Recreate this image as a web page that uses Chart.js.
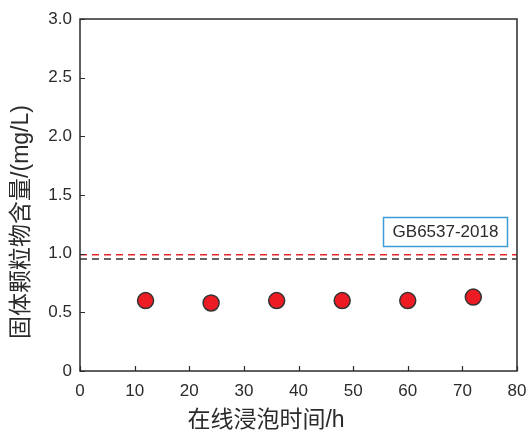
<!DOCTYPE html>
<html>
<head>
<meta charset="utf-8">
<script src="https://cdn.jsdelivr.net/npm/chart.js@4/dist/chart.umd.min.js"></script>
<style>
  html, body { margin: 0; padding: 0; background: #fff; }
  #wrap { width: 528px; height: 436px; position: relative; }
</style>
</head>
<body>
<div id="wrap"><canvas id="c" width="528" height="436"></canvas></div>
<script>
// Soaking time (h) and measured solid particulate content (mg/L)
const soakHours = [12, 24, 36, 48, 60, 72];
const particleContent = [0.60, 0.58, 0.60, 0.60, 0.60, 0.63];

// Reference limit lines (standard GB6537-2018)
const limitRed = 0.99;
const limitBlack = 0.955;
const limitSpan = [0, 80];
const standardLabel = 'GB6537-2018';

const xTicks = [0, 10, 20, 30, 40, 50, 60, 70, 80];
const yTicks = [0, 0.5, 1.0, 1.5, 2.0, 2.5, 3.0];

const xTitle = '在线浸泡时间/h';
const yTitle = '固体颗粒物含量/(mg/L)';

const FONT = '"Liberation Sans", Arial, "Noto Sans CJK SC", sans-serif';
const INK = '#2b2b2b';

// Frame, inward tick marks, axis titles and the standard label box
const decorations = {
  id: 'decorations',
  afterDatasetsDraw(chart) {
    const { ctx, chartArea: a, scales } = chart;
    ctx.save();
    ctx.strokeStyle = INK;
    ctx.lineWidth = 1.5;
    ctx.strokeRect(a.left, a.top, a.right - a.left, a.bottom - a.top);

    ctx.lineWidth = 1.2;
    ctx.beginPath();
    xTicks.forEach(v => {
      const px = Math.round(scales.x.getPixelForValue(v)) + 0.5;
      ctx.moveTo(px, a.bottom);
      ctx.lineTo(px, a.bottom - 5);
    });
    yTicks.forEach(v => {
      const py = Math.round(scales.y.getPixelForValue(v)) + 0.5;
      ctx.moveTo(a.left, py);
      ctx.lineTo(a.left + 5, py);
    });
    ctx.stroke();

    // standard label box
    ctx.strokeStyle = '#3f9bd6';
    ctx.lineWidth = 1.5;
    ctx.strokeRect(383.5, 217.5, 124, 29);
    ctx.fillStyle = INK;
    ctx.font = '17px ' + FONT;
    ctx.textAlign = 'center';
    ctx.textBaseline = 'middle';
    ctx.fillText(standardLabel, 445.5, 232.5);

    // axis titles
    ctx.font = '23px ' + FONT;
    ctx.fillText(xTitle, 266, 421);
    ctx.save();
    ctx.translate(22, 222);
    ctx.rotate(-Math.PI / 2);
    ctx.fillText(yTitle, 0, 0);
    ctx.restore();
    ctx.restore();
  }
};

new Chart(document.getElementById('c'), {
  type: 'scatter',
  data: {
    datasets: [
      {
        type: 'line',
        data: limitSpan.map(x => ({ x, y: limitRed })),
        borderColor: '#e8232a',
        borderWidth: 1.5,
        borderDash: [7, 5],
        pointRadius: 0,
        order: 2
      },
      {
        type: 'line',
        data: limitSpan.map(x => ({ x, y: limitBlack })),
        borderColor: '#333333',
        borderWidth: 1.5,
        borderDash: [7, 5],
        pointRadius: 0,
        order: 3
      },
      {
        data: soakHours.map((h, i) => ({ x: h, y: particleContent[i] })),
        backgroundColor: '#ed1c24',
        borderColor: '#333333',
        borderWidth: 1.5,
        pointRadius: 8,
        order: 1
      }
    ]
  },
  options: {
    responsive: false,
    animation: false,
    devicePixelRatio: 1,
    layout: { padding: { top: 19, right: 11, left: 0, bottom: 0 } },
    plugins: { legend: { display: false }, tooltip: { enabled: false } },
    scales: {
      x: {
        type: 'linear',
        min: 0, max: 80,
        afterBuildTicks: s => { s.ticks = xTicks.map(v => ({ value: v })); },
        afterFit: s => { s.height = 65; s.paddingLeft = 0; s.paddingRight = 0; },
        grid: { display: false, drawTicks: false },
        border: { display: false },
        ticks: {
          color: INK,
          font: { family: FONT, size: 17 },
          padding: 10,
          maxRotation: 0,
          callback: v => String(v)
        }
      },
      y: {
        min: 0, max: 3,
        afterBuildTicks: s => { s.ticks = yTicks.map(v => ({ value: v })); },
        afterFit: s => { s.width = 80; s.paddingTop = 0; s.paddingBottom = 0; },
        grid: { display: false, drawTicks: false },
        border: { display: false },
        ticks: {
          color: INK,
          font: { family: FONT, size: 17 },
          padding: 8,
          callback: v => (v === 0 ? '0' : Number(v).toFixed(1))
        }
      }
    }
  },
  plugins: [decorations]
});
</script>
</body>
</html>
